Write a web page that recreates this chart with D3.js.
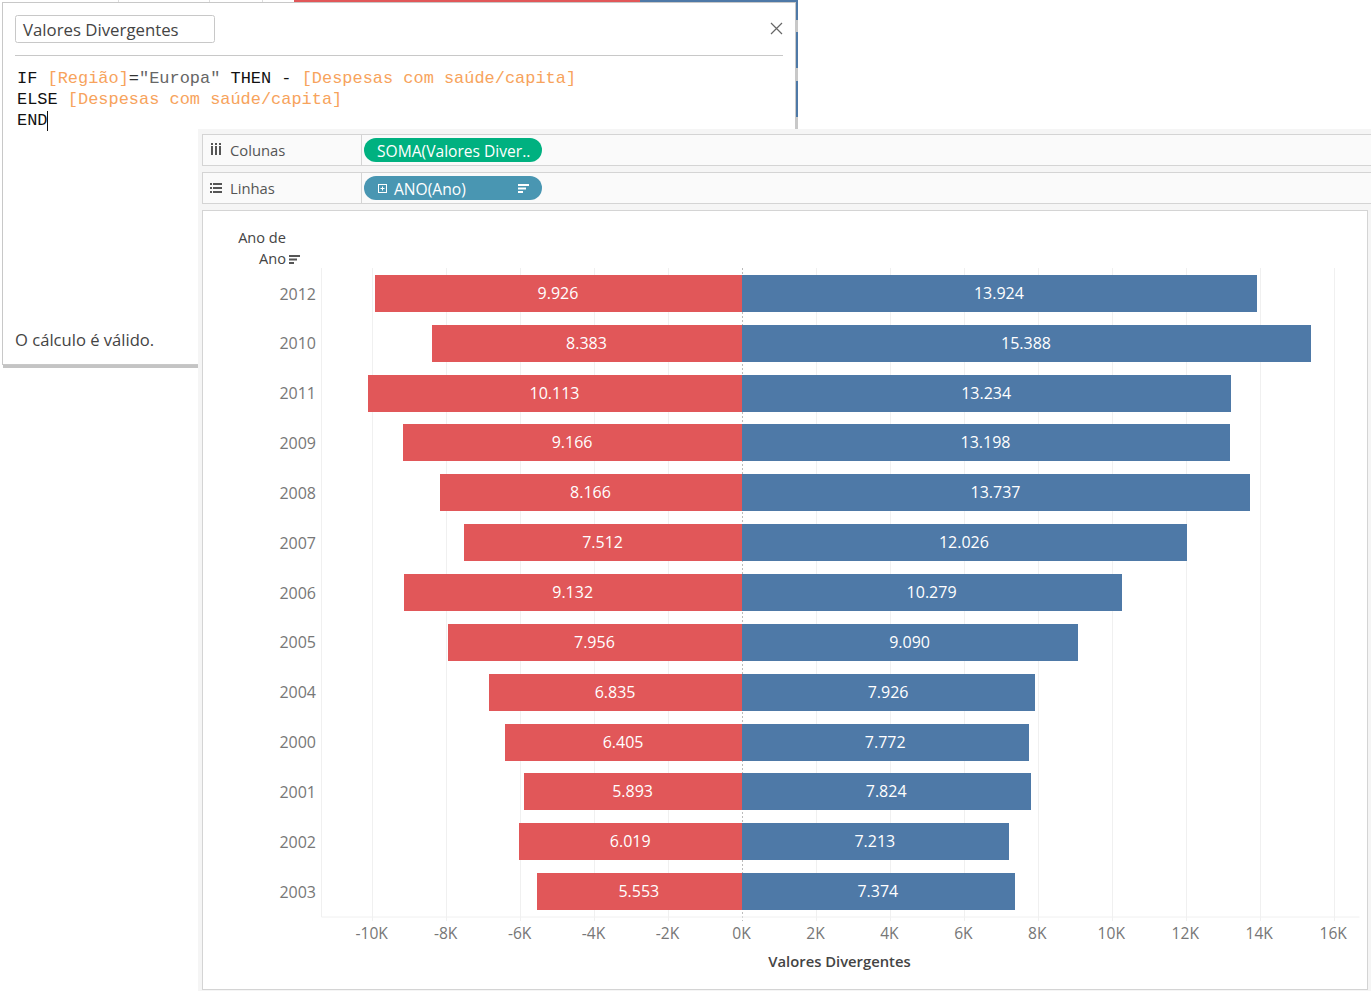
<!DOCTYPE html>
<html>
<head>
<meta charset="utf-8">
<script src="https://cdn.jsdelivr.net/npm/d3@7"></script>
<style>
  html, body { margin: 0; padding: 0; background: #fff; overflow: hidden; }
  svg { display: block; }
  text { font-family: "Open Sans", sans-serif; }
  .code text { font-family: "Liberation Mono", monospace; font-size: 16.95px; }
</style>
</head>
<body>
<script>
const width = 1371;
const height = 991;

const years = ['2012', '2010', '2011', '2009', '2008', '2007', '2006', '2005', '2004', '2000', '2001', '2002', '2003'];
const europa = [9926, 8383, 10113, 9166, 8166, 7512, 9132, 7956, 6835, 6405, 5893, 6019, 5553];
const outras = [13924, 15388, 13234, 13198, 13737, 12026, 10279, 9090, 7926, 7772, 7824, 7213, 7374];
const xTicks = [-10000, -8000, -6000, -4000, -2000, 0, 2000, 4000, 6000, 8000, 10000, 12000, 14000, 16000];

const red = '#e15759';
const blue = '#4e79a7';
const grid = '#f0f0f0';
const rule = '#d4d4d4';

const ptBR = d3.formatLocale({ decimal: ',', thousands: '.', grouping: [3], currency: ['R$', ''] });
const fmt = ptBR.format(',d');

const x = d3.scaleLinear().domain([-11385, 16685]).range([321, 1359]);
const y = d3.scaleBand().domain(years).range([268.5, 916.5]).paddingInner(0.257).paddingOuter(0.128);

const svg = d3.select('body').append('svg')
  .attr('width', width)
  .attr('height', height);

function box(parent, bx, by, w, h, fill, stroke) {
  return parent.append('rect')
    .attr('x', bx).attr('y', by)
    .attr('width', w).attr('height', h)
    .attr('fill', fill)
    .attr('stroke', stroke || 'none');
}

function label(parent, tx, ty, str, size, fill, anchor) {
  return parent.append('text')
    .attr('x', tx).attr('y', ty)
    .attr('font-size', size)
    .attr('fill', fill)
    .attr('text-anchor', anchor || 'start')
    .text(str);
}

// bits of the other sheet showing behind the calc dialog
[118, 209, 262].forEach(lx => box(svg, lx, 0, 1, 3, '#ddd'));
box(svg, 294, 0, 346, 3, red);
box(svg, 640, 0, 158, 3, blue);
box(svg, 796, 0, 2, 20, blue);
box(svg, 796, 20, 2, 12, '#c8c8c8');
box(svg, 796, 32, 2, 36, blue);
box(svg, 796, 68, 2, 13, '#c8c8c8');
box(svg, 796, 81, 2, 36, blue);
box(svg, 796, 117, 2, 12, '#c8c8c8');

// calc dialog
box(svg, 2.5, 2.5, 793, 362, '#fff', '#c8c8c8');
box(svg, 3, 365, 195, 3, '#c4c4c4');
box(svg, 15.5, 15.5, 199, 27, '#fff', '#c8c8c8').attr('rx', 2);
label(svg, 23, 35.5, 'Valores Divergentes', 16.8, '#444');
svg.append('path')
  .attr('d', 'M771 23L782 34M782 23L771 34')
  .attr('stroke', '#666').attr('stroke-width', 1.2).attr('fill', 'none');
svg.append('line')
  .attr('x1', 15).attr('x2', 783).attr('y1', 55.5).attr('y2', 55.5)
  .attr('stroke', '#c8c8c8');

const kw = '#111';
const field = '#f7a35c';
const str = '#666';
const code = svg.append('g').attr('class', 'code');
function codeLine(ty, parts) {
  const t = code.append('text').attr('x', 17).attr('y', ty).attr('xml:space', 'preserve');
  parts.forEach(p => t.append('tspan').attr('fill', p[1]).text(p[0]));
}
codeLine(83, [['IF ', kw], ['[Região]', field], ['=', '#333'], ['"Europa"', str], [' THEN - ', kw], ['[Despesas com saúde/capita]', field]]);
codeLine(104, [['ELSE ', kw], ['[Despesas com saúde/capita]', field]]);
codeLine(125, [['END', kw]]);
svg.append('line')
  .attr('x1', 47.5).attr('x2', 47.5).attr('y1', 111).attr('y2', 131)
  .attr('stroke', '#111');
label(svg, 15, 345.5, 'O cálculo é válido.', 16.6, '#444');

// worksheet area
box(svg, 198, 129, 1173, 862, '#f5f5f5');
box(svg, 202.5, 134.5, 1170, 31, '#fafafa', rule);
box(svg, 202.5, 172.5, 1170, 31, '#fafafa', rule);
[[134.5, 165.5], [172.5, 203.5]].forEach(d => {
  svg.append('line').attr('x1', 361.5).attr('x2', 361.5)
    .attr('y1', d[0]).attr('y2', d[1]).attr('stroke', rule);
});

// shelf icons
[211, 215, 219].forEach(ix => {
  box(svg, ix, 146, 2, 9, '#555');
  box(svg, ix, 143, 2, 2, '#555');
});
[183, 187, 191].forEach(iy => {
  box(svg, 210, iy, 2, 2, '#555');
  box(svg, 213, iy, 9, 2, '#555');
});
label(svg, 230, 156, 'Colunas', 14.8, '#555');
label(svg, 230, 194, 'Linhas', 14.8, '#555');

box(svg, 364, 138, 178, 24, '#00b180').attr('rx', 12);
label(svg, 377, 156.5, 'SOMA(Valores Diver..', 15.6, '#fff');
box(svg, 364, 176, 178, 24, '#4996b2').attr('rx', 12);
label(svg, 394, 194.5, 'ANO(Ano)', 15.6, '#fff');
box(svg, 378.5, 184.5, 8, 8, 'none', '#fff');
svg.append('path').attr('d', 'M380.5 188.5H384.5M382.5 186.5V190.5').attr('stroke', '#fff');

function sortIcon(ix, iy, col) {
  [9, 6, 3].forEach((w, i) => box(svg, ix, iy + i * 3.5, w + 2, 2, col));
}
sortIcon(518, 184, '#fff');

// chart pane
box(svg, 202.5, 210.5, 1165, 779, '#fff', rule);
label(svg, 286, 243, 'Ano de', 14.6, '#444', 'end');
label(svg, 286, 264, 'Ano', 14.6, '#444', 'end');
sortIcon(289, 255, '#555');

// gridlines
svg.append('g')
  .selectAll('line')
  .data(xTicks.filter(d => d !== 0))
  .join('line')
    .attr('x1', d => Math.round(x(d)) + 0.5)
    .attr('x2', d => Math.round(x(d)) + 0.5)
    .attr('y1', 268)
    .attr('y2', 921)
    .attr('stroke', grid);

svg.append('line')
  .attr('x1', 321.5).attr('x2', 321.5).attr('y1', 268).attr('y2', 917)
  .attr('stroke', grid);

// zero line sits under the bars, only shows in the gaps
svg.append('line')
  .attr('x1', x(0) + 0.5).attr('x2', x(0) + 0.5).attr('y1', 268).attr('y2', 921)
  .attr('stroke', '#bbb')
  .attr('stroke-dasharray', '2 2');

// bars, europa on the negative side
const rows = years.map((d, i) => ({ year: d, left: europa[i], right: outras[i] }));

svg.append('g')
  .selectAll('rect')
  .data(rows)
  .join('rect')
    .attr('x', d => Math.round(x(-d.left)))
    .attr('y', d => Math.round(y(d.year)))
    .attr('width', d => Math.round(x(0)) - Math.round(x(-d.left)))
    .attr('height', 37)
    .attr('fill', red);

svg.append('g')
  .selectAll('rect')
  .data(rows)
  .join('rect')
    .attr('x', Math.round(x(0)))
    .attr('y', d => Math.round(y(d.year)))
    .attr('width', d => Math.round(x(d.right)) - Math.round(x(0)))
    .attr('height', 37)
    .attr('fill', blue);

svg.append('g')
  .selectAll('text')
  .data(rows)
  .join('text')
    .attr('x', d => x(-d.left / 2) - 0.5)
    .attr('y', d => y(d.year) + y.bandwidth() / 2 + 5.5)
    .attr('text-anchor', 'middle')
    .attr('font-size', 16)
    .attr('fill', '#fff')
    .text(d => fmt(d.left));

svg.append('g')
  .selectAll('text')
  .data(rows)
  .join('text')
    .attr('x', d => x(d.right / 2) - 0.5)
    .attr('y', d => y(d.year) + y.bandwidth() / 2 + 5.5)
    .attr('text-anchor', 'middle')
    .attr('font-size', 16)
    .attr('fill', '#fff')
    .text(d => fmt(d.right));

// year axis
const yAxis = svg.append('g')
  .attr('transform', 'translate(316,1)')
  .call(d3.axisLeft(y).tickSize(0).tickPadding(0));
yAxis.select('.domain').remove();
yAxis.selectAll('text')
  .attr('font-size', 16)
  .attr('font-family', '"Open Sans", sans-serif')
  .attr('fill', '#777');

// value axis
const xAxis = svg.append('g')
  .attr('transform', 'translate(-1,916.5)')
  .call(d3.axisBottom(x).tickValues(xTicks).tickSize(0).tickPadding(11).tickFormat(d => (d / 1000) + 'K'));
xAxis.select('.domain').attr('stroke', grid).attr('transform', 'translate(1,0)');
xAxis.selectAll('text')
  .attr('font-size', 15.6)
  .attr('font-family', '"Open Sans", sans-serif')
  .attr('fill', '#777');

label(svg, 839.5, 966.5, 'Valores Divergentes', 14.8, '#444', 'middle').attr('font-weight', 600);
</script>
</body>
</html>
